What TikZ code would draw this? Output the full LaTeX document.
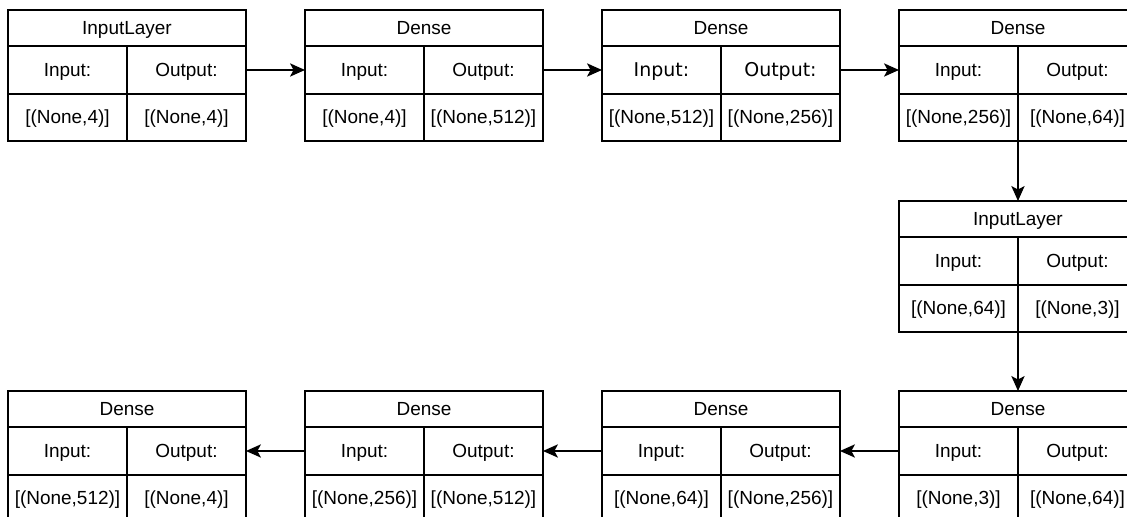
\documentclass[tikz,border=0pt]{standalone}
\usepackage{fontspec}
\setmainfont{Liberation Sans}
\newfontfamily\altfont{DejaVu Sans}
\usetikzlibrary{positioning,arrows.meta}

% one layer box: [font of head row]{name}{top left}{title}{input}{output}
\newcommand{\layerbox}[6][]{%
  \node[frame, anchor=north west] (#2) at (#3) {};
  \node[titlecell, anchor=north west] (#2-t) at (#2.north west) {#4};
  \node[headcell, anchor=north west] (#2-i) at (#2-t.south west) {#1Input:};
  \node[headcell, anchor=north west] (#2-o) at (#2-i.north east) {#1Output:};
  \node[valcell, anchor=north west] (#2-iv) at (#2-i.south west) {#5};
  \node[valcell, anchor=north west] (#2-ov) at (#2-iv.north east) {#6};
}

\begin{document}
\begin{tikzpicture}[
x=0.02cm, y=-0.02cm,
every node/.style={font=\fontsize{10.8}{13}\selectfont, inner sep=0pt, outer sep=0pt,
  text height=7.3pt, text depth=0pt},
frame/.style={draw, line width=1.1pt, minimum width=4.76cm, minimum height=2.62cm},
titlecell/.style={draw, line width=1.1pt, minimum width=4.76cm, minimum height=0.72cm},
headcell/.style={draw, line width=1.1pt, minimum width=2.38cm, minimum height=0.96cm},
valcell/.style={draw, line width=1.1pt, minimum width=2.38cm, minimum height=0.94cm},
arr/.style={-{Stealth[length=8.5pt,width=7.5pt,inset=2pt]}, line width=1.1pt}
]
\useasboundingbox (0,0) rectangle (1127,517);
\clip (0,0) rectangle (1127,517);

% top row
\layerbox{in1}{8,10}{InputLayer}{[(None,4)]}{[(None,4)]}
\layerbox{d1}{305,10}{Dense}{[(None,4)]}{[(None,512)]}
\layerbox[\altfont]{d2}{602,10}{Dense}{[(None,512)]}{[(None,256)]}
\layerbox{d3}{899,10}{Dense}{[(None,256)]}{[(None,64)]}
% middle
\layerbox{in2}{899,201}{InputLayer}{[(None,64)]}{[(None,3)]}
% bottom row
\layerbox{d4}{899,391}{Dense}{[(None,3)]}{[(None,64)]}
\layerbox{d5}{602,391}{Dense}{[(None,64)]}{[(None,256)]}
\layerbox{d6}{305,391}{Dense}{[(None,256)]}{[(None,512)]}
\layerbox{d7}{8,391}{Dense}{[(None,512)]}{[(None,4)]}

\draw[arr] (in1-o.east) -- (d1-i.west);
\draw[arr] (d1-o.east) -- (d2-i.west);
\draw[arr] (d2-o.east) -- (d3-i.west);
\draw[arr] (d3.south) -- (in2.north);
\draw[arr] (in2.south) -- (d4.north);
\draw[arr] (d4-i.west) -- (d5-o.east);
\draw[arr] (d5-i.west) -- (d6-o.east);
\draw[arr] (d6-i.west) -- (d7-o.east);
\end{tikzpicture}
\end{document}
